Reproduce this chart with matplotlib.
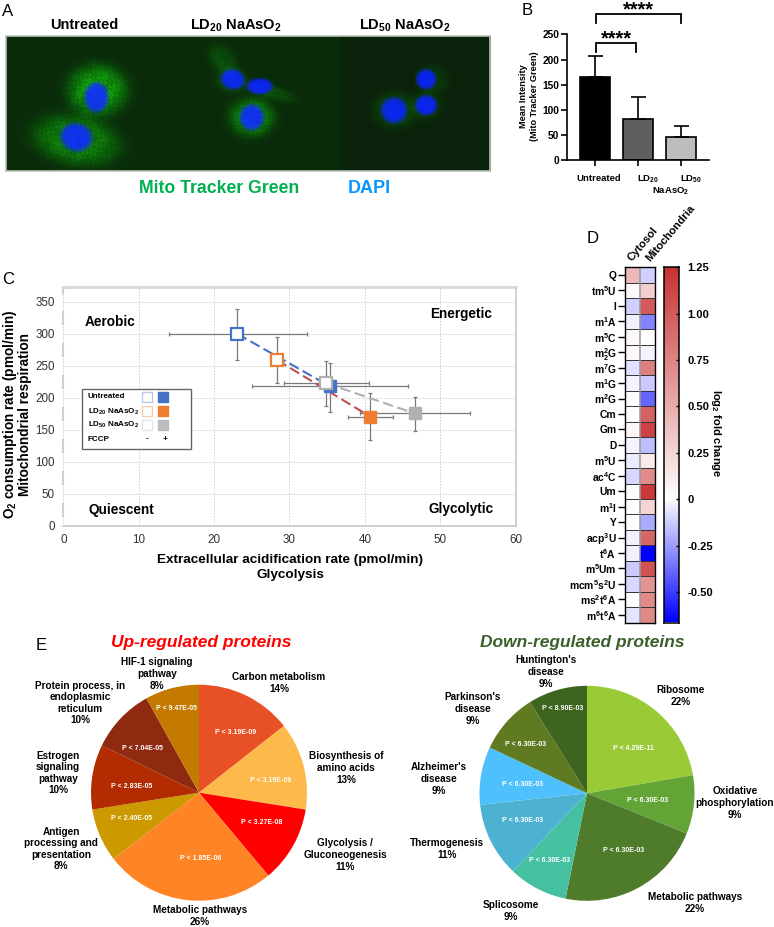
import numpy as np
import matplotlib
matplotlib.use("Agg")
import matplotlib.pyplot as plt
from matplotlib.colors import LinearSegmentedColormap, TwoSlopeNorm
from matplotlib.patches import Rectangle

plt.rcParams["font.family"] = ["Liberation Sans", "DejaVu Sans"]
plt.rcParams["mathtext.fontset"] = "custom"
plt.rcParams["mathtext.rm"] = "Liberation Sans"
plt.rcParams["mathtext.bf"] = "Liberation Sans:bold"
plt.rcParams["mathtext.it"] = "Liberation Sans:italic"

W, H = 774, 927

# panel A: cell blobs (x, y, rx, ry, angle, brightness)
halos = [
    (97, 90, 29, 25, 0, 0.52), (76, 140, 42, 24, 10, 0.4),
    (222, 60, 12, 17, -40, 0.16), (270, 92, 24, 7, 15, 0.16), (251, 117, 22, 19, 0, 0.42),
    (231, 80, 15, 12, 0, 0.2),
    (431, 80, 17, 15, 0, 0.12), (425, 106, 16, 14, 0, 0.12), (394, 110, 22, 18, 0, 0.18),
]
nuclei = [
    (96, 97, 12, 15, 0), (76, 137, 16, 14, 18),
    (232, 79, 12, 10, 15), (259, 86, 13, 8, 0), (251, 117, 12, 13, 0),
    (425, 79, 10, 10, 30), (425, 105, 11, 10, 0), (393, 110, 13, 13, 0),
]

# panel B
bar_labels = ["Untreated", "LD20", "LD50"]
bar_means = [165, 83, 47]
bar_errs = [42, 43, 21]
bar_colors = ["#000000", "#5f5f5f", "#bdbdbd"]

# panel C: x, y, xlow, xhigh, ylow, yhigh
untreated_x = [23.1, 35.4]
untreated_y = [300, 218]
untreated_xerr = [[9.1, 10.3], [9.2, 10.3]]
untreated_yerr = [[40, 40], [39, 37]]
ld20_x = [28.4, 40.7]
ld20_y = [259, 171]
ld20_xerr = [[0.6, 2.9], [0.6, 3.0]]
ld20_yerr = [[36, 37], [36, 36]]
ld50_x = [34.9, 46.6]
ld50_y = [223, 176]
ld50_xerr = [[5.6, 7.2], [5.6, 7.3]]
ld50_yerr = [[36, 28], [35, 25]]

# panel D
mods = [r"Q", r"tm$^{\mathbf{5}}$U", r"I", r"m$^{\mathbf{1}}$A", r"m$^{\mathbf{5}}$C",
        r"m$^{\mathbf{2}}_{\mathbf{2}}$G", r"m$^{\mathbf{7}}$G", r"m$^{\mathbf{1}}$G",
        r"m$^{\mathbf{2}}$G", r"Cm", r"Gm", r"D", r"m$^{\mathbf{5}}$U", r"ac$^{\mathbf{4}}$C",
        r"Um", r"m$^{\mathbf{1}}$I", r"Y", r"acp$^{\mathbf{3}}$U", r"t$^{\mathbf{6}}$A",
        r"m$^{\mathbf{5}}$Um", r"mcm$^{\mathbf{5}}$s$^{\mathbf{2}}$U",
        r"ms$^{\mathbf{2}}$t$^{\mathbf{6}}$A", r"m$^{\mathbf{6}}$t$^{\mathbf{6}}$A"]
cytosol = [0.42, 0.03, -0.12, -0.04, 0.03, 0.03, -0.08, -0.03, 0.01, 0.0, 0.05, -0.03,
           -0.05, -0.1, -0.01, 0.0, 0.0, -0.04, -0.04, -0.14, -0.1, 0.0, -0.07]
mitochondria = [-0.12, 0.3, 1.0, -0.32, 0.0, -0.03, 0.78, -0.14, -0.4, 0.95, 1.15, -0.17,
                0.12, 0.7, 1.2, 0.25, -0.22, 0.92, -0.66, 1.05, 0.65, 0.72, 0.72]
cbar_ticks = [-0.5, -0.25, 0, 0.25, 0.5, 0.75, 1.0, 1.25]
cbar_ticklabels = ["-0.50", "-0.25", "0", "0.25", "0.50", "0.75", "1.00", "1.25"]

# panel E
up_sizes = [14.4, 13.1, 11.4, 25.6, 8.0, 9.7, 9.7, 8.1]
up_colors = ["#e85025", "#fdb94a", "#ff0000", "#ff8426", "#cc9900", "#b32b00", "#8f2a10", "#c47a00"]
up_labels = ["Carbon metabolism\n14%", "Biosynthesis of\namino acids\n13%", "Glycolysis /\nGluconeogenesis\n11%",
             "Metabolic pathways\n26%", "Antigen\nprocessing and\npresentation\n8%",
             "Estrogen\nsignaling\npathway\n10%", "Protein process, in\nendoplasmic\nreticulum\n10%",
             "HIF-1 signaling\npathway\n8%"]
up_pvals = ["P < 3.19E-09", "P < 3.19E-09", "P < 3.27E-08", "P < 1.85E-06",
            "P < 2.40E-05", "P < 2.83E-05", "P < 7.04E-05", "P < 9.47E-05"]
up_label_xy = [(279, 683), (346, 768), (345, 855), (200, 916), (61, 849), (58, 773), (80, 703), (157, 674)]
up_pval_xy = [(236, 733), (271, 781), (262, 823), (201, 859), (132, 819), (132, 787), (142, 748), (177, 708)]

down_sizes = [22.3, 8.8, 22.1, 8.9, 11.2, 8.7, 9.1, 8.9]
down_colors = ["#9acb37", "#62a436", "#4e7c2a", "#45c1a2", "#4db2d2", "#4ec0fc", "#5f7a21", "#3d6520"]
down_labels = ["Ribosome\n22%", "Oxidative\nphosphorylation\n9%", "Metabolic pathways\n22%", "Splicosome\n9%",
               "Thermogenesis\n11%", "Alzheimer's\ndisease\n9%", "Parkinson's\ndisease\n9%", "Huntington's\ndisease\n9%"]
down_pvals = ["P < 4.29E-11", "P < 6.30E-03", "P < 6.30E-03", "P < 6.30E-03",
              "P < 6.30E-03", "P < 6.30E-03", "P < 6.30E-03", "P < 8.90E-03"]
down_label_xy = [(681, 696), (735, 803), (695, 903), (511, 911), (447, 849), (439, 779), (473, 709), (546, 672)]
down_pval_xy = [(633, 748), (648, 800), (624, 851), (550, 860), (523, 821), (523, 784), (526, 744), (563, 708)]


def px_axes(left, top, right, bottom, **kw):
    return fig.add_axes([left / W, 1 - bottom / H, (right - left) / W, (bottom - top) / H], **kw)


fig = plt.figure(figsize=(W / 100, H / 100), dpi=100)

# overlay in pixel coordinates for all loose text
ov = px_axes(0, 0, W, H, zorder=10)
ov.set_xlim(0, W)
ov.set_ylim(H, 0)
ov.axis("off")
ov.patch.set_alpha(0)


def label(x, y, s, size=7.2, weight="bold", color="black", ha="center", va="center", **kw):
    ov.text(x, y, s, fontsize=size, fontweight=weight, color=color, ha=ha, va=va, **kw)


for s, x, y in [("A", 8, 11), ("B", 527, 10), ("C", 8, 279), ("D", 593, 238), ("E", 41, 645)]:
    label(x, y, s, size=12, weight="normal")

# A: micrograph
ax_a = px_axes(6, 36, 490, 171)
xx, yy = np.meshgrid(np.arange(6, 490, 0.5), np.arange(36, 171, 0.5))


def blob(x0, y0, rx, ry, ang, power):
    t = np.deg2rad(ang)
    u = (xx - x0) * np.cos(t) + (yy - y0) * np.sin(t)
    v = -(xx - x0) * np.sin(t) + (yy - y0) * np.cos(t)
    return np.exp(-((u / rx) ** 2 + (v / ry) ** 2) ** power)


# filament look of the mitochondria stain
texture = 0.78 + 0.22 * np.sin(xx * 0.8 + 2 * np.sin(yy * 0.5)) * np.sin(yy * 0.7 + 2 * np.sin(xx * 0.6))
green = np.where(xx < 340, 0.17, 0.13)
for h in halos:
    green = green + h[5] * blob(h[0], h[1], h[2], h[3], h[4], 2) * texture
blue = np.zeros_like(xx)
for n in nuclei:
    blue = blue + blob(n[0], n[1], n[2], n[3], n[4], 4)
blue = np.clip(blue, 0, 1)
img = np.dstack([0.04 + 0.12 * np.clip(green - 0.35, 0, 1), green * (1 - 0.8 * blue) + 0.1 * blue,
                 0.04 + 0.88 * blue])
ax_a.imshow(np.clip(img, 0, 1), extent=[6, 490, 171, 36], aspect="auto", interpolation="bilinear")
ax_a.set_xticks([])
ax_a.set_yticks([])
for sp in ax_a.spines.values():
    sp.set_color("#b9c2b9")
    sp.set_linewidth(1.2)

label(84, 25, "Untreated", size=10.5)
label(236, 26, r"LD$_{\mathbf{20}}$ NaAsO$_{\mathbf{2}}$", size=10.5)
label(405, 26, r"LD$_{\mathbf{50}}$ NaAsO$_{\mathbf{2}}$", size=10.5)
label(219.5, 188.7, "Mito Tracker Green", size=12.7, color="#00b050")
label(369, 188.7, "DAPI", size=13, color="#0a96ff")

# B: bars
ax_b = px_axes(567, 34.5, 709, 160.3)
xpos = np.arange(3)
ax_b.bar(xpos, bar_means, width=0.68, color=bar_colors, edgecolor="black", linewidth=1.2)
ax_b.errorbar(xpos, bar_means, yerr=[[0, 0, 0], bar_errs], fmt="none", ecolor="black",
              elinewidth=1.2, capsize=5.4, capthick=1.2)
ax_b.set_xlim(-0.651, 2.65)
ax_b.set_ylim(0, 250)
ax_b.set_xticks(xpos)
ax_b.set_xticklabels([])
ax_b.set_yticks([0, 50, 100, 150, 200, 250])
ax_b.set_yticklabels([0, 50, 100, 150, 200, 250], fontweight="bold", fontsize=7.4)
ax_b.tick_params(width=1.2, length=4, pad=1.5)
ax_b.spines["top"].set_visible(False)
ax_b.spines["right"].set_visible(False)
ax_b.spines["left"].set_linewidth(1.2)
ax_b.spines["bottom"].set_linewidth(1.2)
label(529, 96, "Mean Intensity\n(Mito Tracker Green)", size=6.6, rotation=90, linespacing=1.3)
label(599, 178.5, bar_labels[0], size=6.8)
label(648, 179.5, r"LD$_{\mathbf{20}}$", size=6.8)
label(691, 179.5, r"LD$_{\mathbf{50}}$", size=6.8)
label(671, 191, r"NaAsO$_{\mathbf{2}}$", size=6.8)
ov.plot([596, 596, 681, 681], [23, 14, 14, 23], color="black", lw=1.3, solid_joinstyle="miter")
ov.plot([596, 596, 636, 636], [52, 43, 43, 52], color="black", lw=1.3, solid_joinstyle="miter")
label(638, 10, "****", size=14.5)
label(616, 39, "****", size=14.5)

# C: energy map
ax_c = px_axes(63.3, 286.7, 515.5, 526)
ax_c.set_xlim(0, 60)
ax_c.set_ylim(0, 373.8)
ax_c.set_xticks(range(0, 61, 10))
ax_c.set_yticks(range(0, 351, 50))
ax_c.grid(True, color="#cfcfcf", linestyle=(0, (1.5, 1.5)), linewidth=0.7)
ax_c.set_axisbelow(True)
ax_c.tick_params(length=0, labelsize=8.4, pad=6, labelcolor="#333333")
for side, sp in ax_c.spines.items():
    sp.set_color("#c8c8c8")
    sp.set_linewidth(1.2)
ax_c.spines["top"].set_linewidth(2)
ax_c.spines["top"].set_color("#d8d8d8")
# the left axis line only shows as short pieces between the grid lines
ax_c.spines["left"].set_visible(False)
for y0 in range(0, 301, 50):
    ax_c.plot([0, 0], [y0 + 16, y0 + 34], color="#d0d0d0", lw=1.5, clip_on=False, zorder=1)
ax_c.plot([0, 0], [364, 373.8], color="#d0d0d0", lw=1.5, clip_on=False, zorder=1)

series = [
    (untreated_x, untreated_y, untreated_xerr, untreated_yerr, "#4472c4", "#4472c4"),
    (ld20_x, ld20_y, ld20_xerr, ld20_yerr, "#c0504d", "#ed7d31"),
    (ld50_x, ld50_y, ld50_xerr, ld50_yerr, "#b0b0b0", "#b0b0b0"),
]
for x, y, xerr, yerr, linec, markc in series:
    ax_c.errorbar(x, y, xerr=xerr, yerr=yerr, fmt="none", ecolor="#7a7a7a", elinewidth=0.9,
                  capsize=1.4, capthick=0.9, zorder=2)
    ax_c.plot(x, y, color=linec, lw=1.5, linestyle=(0, (5, 2.2)), zorder=3)
    ax_c.plot(x[0], y[0], "s", ms=8, mfc="white", mec=markc, mew=1.6, zorder=4)
    ax_c.plot(x[1], y[1], "s", ms=8, mfc=markc, mec=markc, zorder=4)

label(110, 321.5, "Aerobic", size=9.8)
label(461, 314, "Energetic", size=9.8)
label(121, 510, "Quiescent", size=9.8)
label(461.5, 509.5, "Glycolytic", size=9.8)
label(290, 559.5, "Extracellular acidification rate (pmol/min)", size=9.7)
label(290, 575, "Glycolysis", size=9.7)
label(10, 414, r"O$_{\mathbf{2}}$ consumption rate (pmol/min)", size=9.8, rotation=90)
label(25, 414, "Mitochondrial respiration", size=9.8, rotation=90)

# C legend
ov.add_patch(Rectangle((82, 388.5), 108.5, 60.5, facecolor="white", edgecolor="#666666", lw=1))
for text, yy_row in [("Untreated", 397), (r"LD$_{\mathbf{20}}$ NaAsO$_{\mathbf{2}}$", 412),
                     (r"LD$_{\mathbf{50}}$ NaAsO$_{\mathbf{2}}$", 425), ("FCCP", 439)]:
    label(88, yy_row, text, size=5.8, ha="left")
for c_open, c_fill, yy_row in [("#b4c7e7", "#4472c4", 397), ("#f8cbad", "#ed7d31", 411), ("#e4e4e4", "#bcbcbc", 425)]:
    ov.plot(147, yy_row, "s", ms=6.5, mfc="white", mec=c_open, mew=0.9)
    ov.plot(163, yy_row, "s", ms=6.5, mfc=c_fill, mec=c_fill)
label(147.5, 439, "-", size=6)
label(165, 439, "+", size=6)

# D: heatmap and colorbar
vmin, vmax = -0.665, 1.25
cmap = LinearSegmentedColormap.from_list("bwr_d", ["#0000ff", "#ffffff", "#c83232"])
norm = TwoSlopeNorm(vmin=vmin, vcenter=0, vmax=vmax)
ax_d = px_axes(624.7, 267.3, 655.3, 622.5)
ax_d.pcolormesh(np.column_stack([cytosol, mitochondria]), cmap=cmap, norm=norm)
ax_d.hlines(np.arange(1, len(mods)), 0, 2, color="#333333", lw=0.7)
ax_d.axvline(1, color="#999999", lw=1.1)
ax_d.set_ylim(len(mods), 0)
ax_d.set_xticks([])
ax_d.set_yticks(np.arange(len(mods)) + 0.5)
ax_d.set_yticklabels(mods, fontweight="bold", fontsize=7.4)
ax_d.tick_params(axis="y", length=5, width=1, pad=1)
for sp in ax_d.spines.values():
    sp.set_linewidth(1.0)
label(633, 263, "Cytosol", size=8, rotation=50, ha="left", va="bottom", rotation_mode="anchor")
label(652, 263, "Mitochondria", size=8, rotation=50, ha="left", va="bottom", rotation_mode="anchor")

ax_cb = px_axes(664.3, 267.3, 679.3, 622.5)
grad = np.linspace(vmin, vmax, 400).reshape(-1, 1)
ax_cb.imshow(grad, cmap=cmap, norm=norm, origin="lower", aspect="auto", extent=[0, 1, vmin, vmax])
ax_cb.set_xticks([])
ax_cb.yaxis.tick_right()
ax_cb.set_yticks(cbar_ticks)
ax_cb.set_yticklabels(cbar_ticklabels, fontweight="bold", fontsize=8)
ax_cb.tick_params(axis="y", direction="in", length=2, width=1, pad=6)
for sp in ax_cb.spines.values():
    sp.set_linewidth(1.1)
label(716, 433, r"log$_{\mathbf{2}}$ fold change", size=8, rotation=270)


# E: pies
def draw_pie(cx, cy, r, sizes, colors):
    m = 1.05
    ax = px_axes(cx - r * m, cy - r * m, cx + r * m, cy + r * m)
    ax.pie(sizes, colors=colors, startangle=90, counterclock=False, radius=1)
    ax.set_xlim(-m, m)
    ax.set_ylim(-m, m)


draw_pie(199, 792.7, 108, up_sizes, up_colors)
draw_pie(587, 793.3, 107.5, down_sizes, down_colors)
for s, xy in zip(up_labels + down_labels, up_label_xy + down_label_xy):
    label(xy[0], xy[1], s, size=7.2)
for s, xy in zip(up_pvals + down_pvals, up_pval_xy + down_pval_xy):
    label(xy[0], xy[1], s, size=5, color="white")
label(201.5, 643, "Up-regulated proteins", size=12.5, color="#ff0000", style="italic")
label(582.5, 643, "Down-regulated proteins", size=12.5, color="#3a5f2a", style="italic")

fig.savefig("out.png", dpi=100)
